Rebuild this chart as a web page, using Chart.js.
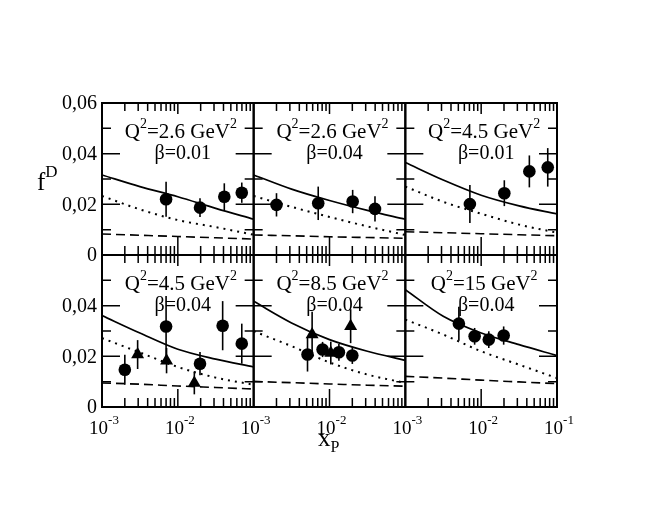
<!DOCTYPE html>
<html><head><meta charset="utf-8">
<script src="https://cdn.jsdelivr.net/npm/chart.js@4/dist/chart.umd.min.js"></script>
<style>html,body{margin:0;padding:0;background:#fff;}#wrap{position:relative;width:660px;height:510px;}</style>
</head><body><div id="wrap"><canvas id="c" width="660" height="510"></canvas></div>
<script>
// ---------- data ----------
const curveX = [0.001, 0.00316, 0.01, 0.0316, 0.1];
const q2Labels = ['2.6', '2.6', '4.5', '4.5', '8.5', '15'];
const betaLabels = ['0.01', '0.04', '0.01', '0.04', '0.04', '0.04'];

const solid1 = [0.0316, 0.0270, 0.0230, 0.0184, 0.0141];
const solid2 = [0.0316, 0.0260, 0.0215, 0.0176, 0.0141];
const solid3 = [0.0365, 0.0296, 0.0236, 0.0194, 0.0162];
const solid4 = [0.0361, 0.0292, 0.0228, 0.0189, 0.0158];
const solid5 = [0.0417, 0.0332, 0.0266, 0.0220, 0.0184];
const solid6 = [0.0463, 0.0358, 0.0292, 0.0246, 0.0203];

const dotted1 = [0.0233, 0.0180, 0.0138, 0.0110, 0.0080];
const dotted2 = [0.0233, 0.0190, 0.0150, 0.0113, 0.0079];
const dotted3 = [0.0270, 0.0210, 0.0163, 0.0120, 0.0088];
const dotted4 = [0.0272, 0.0215, 0.0158, 0.0116, 0.0088];
const dotted5 = [0.0299, 0.0240, 0.0176, 0.0128, 0.0095];
const dotted6 = [0.0345, 0.0286, 0.0220, 0.0167, 0.0114];

const dashed1 = [0.0083, 0.0078, 0.0073, 0.0068, 0.0063];
const dashed2 = [0.0079, 0.0076, 0.0072, 0.0069, 0.0066];
const dashed3 = [0.0092, 0.0088, 0.0084, 0.0080, 0.0076];
const dashed4 = [0.0095, 0.0090, 0.0083, 0.0077, 0.0071];
const dashed5 = [0.0101, 0.0096, 0.0091, 0.0086, 0.0082];
const dashed6 = [0.0121, 0.0114, 0.0106, 0.0099, 0.0092];

const circX1 = [0.0070, 0.0196, 0.0410, 0.0697];
const circY1 = [0.0220, 0.0187, 0.0230, 0.0246];
const circE1 = [0.0069, 0.0037, 0.0053, 0.0040];
const circX2 = [0.0020, 0.0071, 0.0202, 0.0398];
const circY2 = [0.0198, 0.0204, 0.0211, 0.0182];
const circE2 = [0.0046, 0.0066, 0.0046, 0.0050];
const circX3 = [0.0071, 0.0202, 0.0432, 0.0755];
const circY3 = [0.0201, 0.0244, 0.0330, 0.0346];
const circE3 = [0.0075, 0.0051, 0.0063, 0.0076];
const circX4 = [0.0020, 0.0070, 0.0196, 0.0390, 0.0697];
const circY4 = [0.0147, 0.0318, 0.0171, 0.0321, 0.0250];
const circE4 = [0.0059, 0.0120, 0.0046, 0.0097, 0.0079];
const circX5 = [0.00513, 0.0081, 0.0133, 0.0200];
const circY5 = [0.0207, 0.0227, 0.0216, 0.0203];
const circE5 = [0.0067, 0.0030, 0.0033, 0.0033];
const circX6 = [0.00508, 0.0082, 0.0126, 0.0198];
const circY6 = [0.0329, 0.0279, 0.0266, 0.0282];
const circE6 = [0.0067, 0.0033, 0.0033, 0.0036];

const triX4 = [0.00295, 0.0071, 0.0165];
const triY4 = [0.0207, 0.0183, 0.0095];
const triE4 = [0.0057, 0.0050, 0.0045];
const triX5 = [0.0059, 0.0104, 0.0190];
const triY5 = [0.0286, 0.0213, 0.0319];
const triE5 = [0.0090, 0.0045, 0.0067];

const yTickValues = [0, 0.02, 0.04, 0.06];
const yTickLabels = ['0', '0,02', '0,04', '0,06'];
const yMinorValues = [0.01, 0.03, 0.05];
const xMajorValues = [0.001, 0.01, 0.1];
const xTickExp = ['-3', '-2', '-1'];
const xMinorValues = [0.002, 0.003, 0.004, 0.005, 0.006, 0.007, 0.008, 0.009,
                      0.02, 0.03, 0.04, 0.05, 0.06, 0.07, 0.08, 0.09];

// ---------- build ----------
const solids = [solid1, solid2, solid3, solid4, solid5, solid6];
const dotteds = [dotted1, dotted2, dotted3, dotted4, dotted5, dotted6];
const dasheds = [dashed1, dashed2, dashed3, dashed4, dashed5, dashed6];
const circles = [[circX1, circY1, circE1], [circX2, circY2, circE2], [circX3, circY3, circE3],
                 [circX4, circY4, circE4], [circX5, circY5, circE5], [circX6, circY6, circE6]];
const triangles = [null, null, null, [triX4, triY4, triE4], [triX5, triY5, triE5], null];

const FONT = '"Liberation Serif", "Times New Roman", Times, serif';
const datasets = [];
const scales = {};
for (let i = 0; i < 6; i++) {
  const xa = 'x' + i, ya = 'y' + i;
  scales[xa] = { type: 'logarithmic', min: 0.001, max: 0.1, display: false };
  scales[ya] = { type: 'linear', min: 0, max: 0.06, display: false };
  const common = { xAxisID: xa, yAxisID: ya, borderColor: '#000', pointRadius: 0, fill: false,
                   cubicInterpolationMode: 'monotone' };
  datasets.push(Object.assign({ type: 'line', label: 'theory ' + i,
    data: curveX.map((x, k) => ({ x, y: solids[i][k] })), borderWidth: 1.7 }, common));
  datasets.push(Object.assign({ type: 'line', label: 'dotted ' + i,
    data: curveX.map((x, k) => ({ x, y: dotteds[i][k] })), borderWidth: 2, borderDash: [2, 5] }, common));
  datasets.push(Object.assign({ type: 'line', label: 'dashed ' + i,
    data: curveX.map((x, k) => ({ x, y: dasheds[i][k] })), borderWidth: 1.6, borderDash: [9, 5] }, common));
  const c = circles[i];
  datasets.push({ type: 'line', label: 'data ' + i, xAxisID: xa, yAxisID: ya, showLine: false,
    data: c[0].map((x, k) => ({ x, y: c[1][k] })), errs: c[2],
    pointStyle: 'circle', pointRadius: 6.3, pointBackgroundColor: '#000', pointBorderColor: '#000', pointBorderWidth: 0 });
  const t = triangles[i];
  if (t) {
    datasets.push({ type: 'line', label: 'data2 ' + i, xAxisID: xa, yAxisID: ya, showLine: false,
      data: t[0].map((x, k) => ({ x, y: t[1][k] })), errs: t[2],
      pointStyle: 'triangle', pointRadius: 7.5, pointBackgroundColor: '#000', pointBorderColor: '#000', pointBorderWidth: 0 });
  }
}

function drawRich(ctx, parts, x, y, align) {
  let W = 0;
  for (const p of parts) { ctx.font = p.size + 'px ' + FONT; W += ctx.measureText(p.t).width; }
  let cx = align === 'center' ? x - W / 2 : (align === 'right' ? x - W : x);
  ctx.textAlign = 'left'; ctx.textBaseline = 'alphabetic';
  for (const p of parts) {
    ctx.font = p.size + 'px ' + FONT;
    ctx.fillText(p.t, cx, y + (p.dy || 0));
    cx += ctx.measureText(p.t).width;
  }
}

const panelPlugin = {
  id: 'panels',
  afterLayout(chart) {
    const a = chart.chartArea;
    const w = (a.right - a.left) / 3, h = (a.bottom - a.top) / 2;
    for (let i = 0; i < 6; i++) {
      const r = Math.floor(i / 3), c = i % 3;
      const L = a.left + c * w, T = a.top + r * h;
      const xs = chart.scales['x' + i], ys = chart.scales['y' + i];
      xs.left = L; xs.right = L + w; xs.width = w; xs.top = T + h; xs.bottom = T + h;
      xs.configure();
      ys.top = T; ys.bottom = T + h; ys.height = h; ys.left = L; ys.right = L;
      ys.configure();
    }
  },
  beforeDatasetsDraw(chart) {
    const ctx = chart.ctx;
    ctx.save();
    ctx.strokeStyle = '#000'; ctx.lineWidth = 1.6;
    chart.data.datasets.forEach(ds => {
      if (!ds.errs) return;
      const xs = chart.scales[ds.xAxisID], ys = chart.scales[ds.yAxisID];
      ds.data.forEach((p, k) => {
        const px = xs.getPixelForValue(p.x);
        ctx.beginPath();
        ctx.moveTo(px, ys.getPixelForValue(p.y - ds.errs[k]));
        ctx.lineTo(px, ys.getPixelForValue(p.y + ds.errs[k]));
        ctx.stroke();
      });
    });
    ctx.restore();
  },
  afterDraw(chart) {
    const ctx = chart.ctx;
    ctx.save();
    ctx.strokeStyle = '#000'; ctx.fillStyle = '#000';
    for (let i = 0; i < 6; i++) {
      const r = Math.floor(i / 3), c = i % 3;
      const xs = chart.scales['x' + i], ys = chart.scales['y' + i];
      const L = xs.left, R = xs.right, T = ys.top, B = ys.bottom;
      // ticks
      ctx.lineWidth = 1.5;
      ctx.beginPath();
      xMinorValues.forEach(v => {
        const px = xs.getPixelForValue(v);
        ctx.moveTo(px, B); ctx.lineTo(px, B - 9);
        ctx.moveTo(px, T); ctx.lineTo(px, T + 8);
      });
      const pm = xs.getPixelForValue(xMajorValues[1]);
      ctx.moveTo(pm, B); ctx.lineTo(pm, B - 18);
      ctx.moveTo(pm, T); ctx.lineTo(pm, T + 11);
      yMinorValues.forEach(v => {
        const py = ys.getPixelForValue(v);
        ctx.moveTo(L, py); ctx.lineTo(L + 9, py);
        ctx.moveTo(R, py); ctx.lineTo(R - 9, py);
      });
      [yTickValues[1], yTickValues[2]].forEach(v => {
        const py = ys.getPixelForValue(v);
        ctx.moveTo(L, py); ctx.lineTo(L + 18, py);
        ctx.moveTo(R, py); ctx.lineTo(R - 18, py);
      });
      ctx.stroke();
      // frame
      ctx.lineWidth = 2;
      ctx.strokeRect(L, T, R - L, B - T);
      // panel annotation
      const cx = (L + R) / 2 + 3;
      drawRich(ctx, [{ t: 'Q', size: 21 }, { t: '2', size: 14, dy: -10 },
        { t: '=' + q2Labels[i] + ' GeV', size: 21 }, { t: '2', size: 14, dy: -10 }], cx, T + 35, 'center');
      drawRich(ctx, [{ t: 'β=' + betaLabels[i], size: 20 }], cx + 2, T + 56, 'center');
      // y tick labels
      if (c === 0) {
        ctx.font = '20px ' + FONT; ctx.textAlign = 'right'; ctx.textBaseline = 'middle';
        yTickValues.forEach((v, k) => {
          if (r === 1 && k === 3) return;
          ctx.fillText(yTickLabels[k], L - 5, ys.getPixelForValue(v) + 1);
        });
      }
      // x tick labels
      if (r === 1) {
        xMajorValues.forEach((v, k) => {
          if (k === 2 && c < 2) return;
          drawRich(ctx, [{ t: '10', size: 19 }, { t: xTickExp[k], size: 13, dy: -10 }],
            xs.getPixelForValue(v) + 2, B + 27, 'center');
        });
      }
    }
    // axis titles
    drawRich(ctx, [{ t: 'f', size: 25 }, { t: 'D', size: 17, dy: -13 }], 37, 190, 'left');
    drawRich(ctx, [{ t: 'x', size: 25 }, { t: 'P', size: 16, dy: 6 }], 318, 446, 'left');
    ctx.restore();
  }
};

new Chart(document.getElementById('c'), {
  type: 'line',
  data: { datasets },
  options: {
    responsive: false, animation: false, devicePixelRatio: 1,
    layout: { padding: { left: 102, right: 103, top: 103, bottom: 103 } },
    plugins: { legend: { display: false }, tooltip: { enabled: false } },
    scales
  },
  plugins: [panelPlugin]
});
</script></body></html>
